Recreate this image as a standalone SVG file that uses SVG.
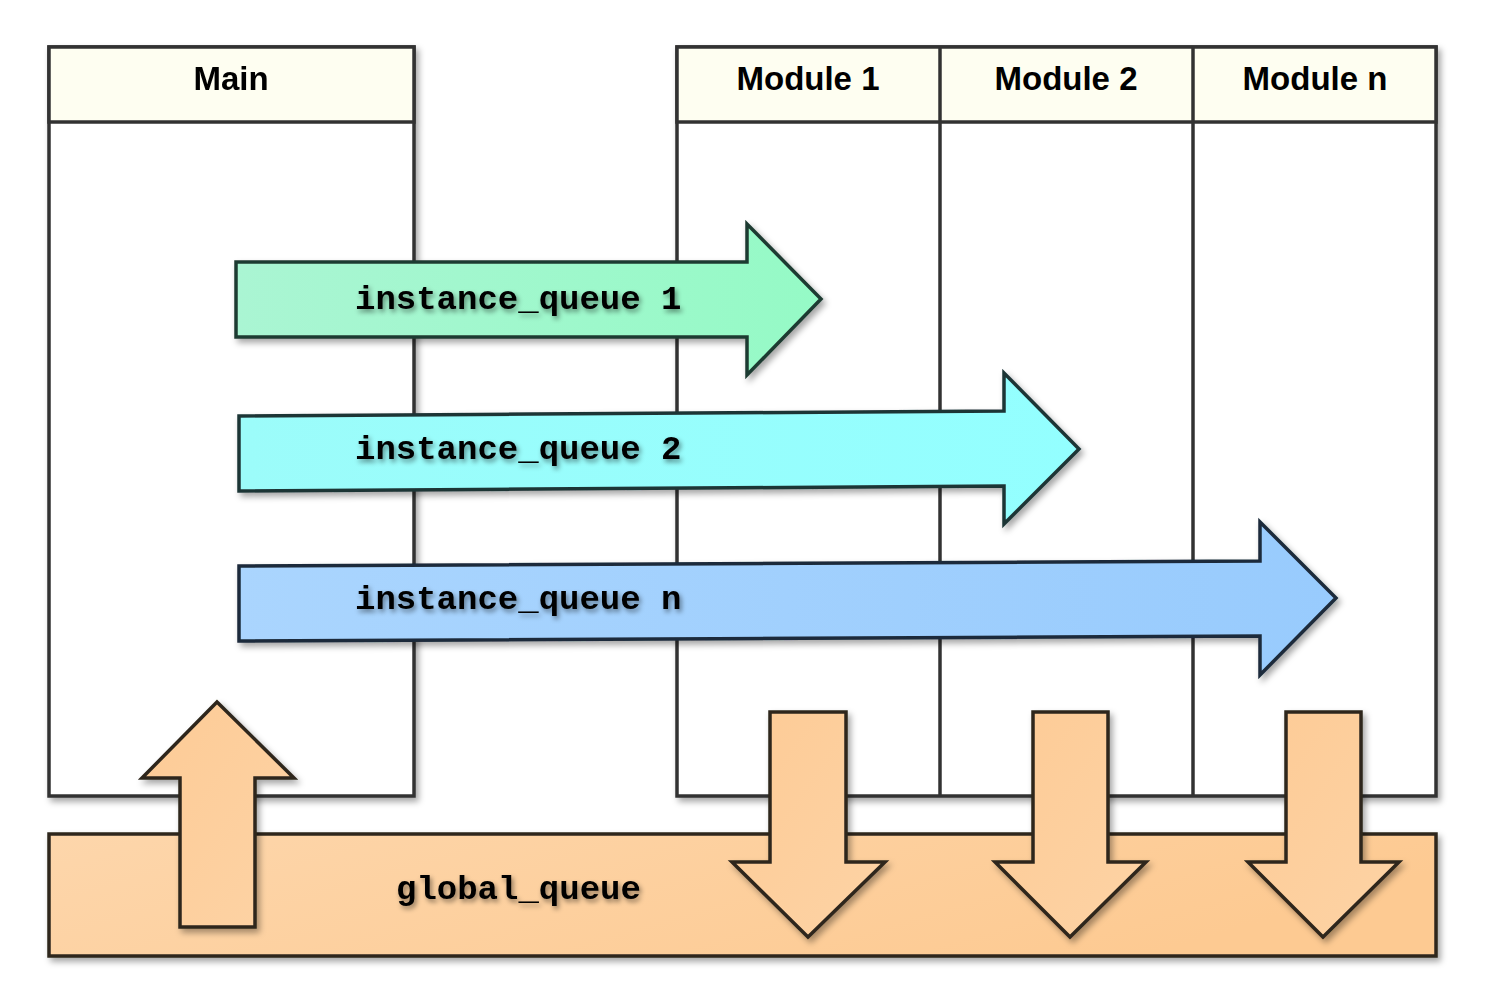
<svg xmlns="http://www.w3.org/2000/svg" width="1488" height="995" viewBox="0 0 1488 995">
<defs>
<filter id="sh" x="-10%" y="-10%" width="120%" height="120%">
<feDropShadow dx="3" dy="4" stdDeviation="3" flood-color="#000" flood-opacity="0.35"/>
</filter>
<filter id="tsh" x="-10%" y="-30%" width="120%" height="160%">
<feDropShadow dx="2" dy="3" stdDeviation="2.5" flood-color="#000" flood-opacity="0.45"/>
</filter>
<linearGradient id="gOrange" x1="0" y1="0" x2="1" y2="0.3">
<stop offset="0" stop-color="#fdd6ab"/><stop offset="1" stop-color="#fdca92"/>
</linearGradient>
<linearGradient id="gGreen" x1="0" y1="0" x2="1" y2="0">
<stop offset="0" stop-color="#aaf5d3"/><stop offset="1" stop-color="#95fac6"/>
</linearGradient>
<linearGradient id="gCyan" x1="0" y1="0" x2="1" y2="0">
<stop offset="0" stop-color="#9cfcfa"/><stop offset="1" stop-color="#93ffff"/>
</linearGradient>
<linearGradient id="gBlue" x1="0" y1="0" x2="1" y2="0">
<stop offset="0" stop-color="#aad5fe"/><stop offset="1" stop-color="#98cbfd"/>
</linearGradient>
<linearGradient id="gUp" x1="0" y1="0" x2="1" y2="1">
<stop offset="0" stop-color="#fdcb96"/><stop offset="1" stop-color="#fdd3a5"/>
</linearGradient>
</defs>
<style>
.lane{fill:#ffffff;stroke:#333333;stroke-width:3.5}
.hdr{fill:#fefef1;stroke:#333333;stroke-width:3.5}
.div{stroke:#333333;stroke-width:3.5;fill:none}
.lbl{font-family:"Liberation Sans",Arial,sans-serif;font-weight:bold;font-size:33px;fill:#000;text-anchor:middle}
.mono{font-family:"Liberation Mono","Courier New",monospace;font-weight:bold;font-size:34px;fill:#000}
.oarr{stroke:#2e261c;stroke-width:3.5;stroke-linejoin:miter}
</style>
<rect width="1488" height="995" fill="#ffffff"/>

<g id="main" filter="url(#sh)">
<rect class="lane" x="49" y="47" width="365" height="749"/>
<rect class="hdr" x="49" y="47" width="365" height="75"/>
<text class="lbl" x="231" y="90">Main</text>
</g>

<g id="modules" filter="url(#sh)">
<rect class="lane" x="677" y="47" width="759" height="749"/>
<rect class="hdr" x="677" y="47" width="759" height="75"/>
<line class="div" x1="940" y1="47" x2="940" y2="796"/>
<line class="div" x1="1193" y1="47" x2="1193" y2="796"/>
</g>
<g id="module1"><text class="lbl" x="808" y="90">Module 1</text></g>
<g id="module2"><text class="lbl" x="1066" y="90">Module 2</text></g>
<g id="modulen"><text class="lbl" x="1315" y="90">Module n</text></g>

<g id="global_queue">
<rect x="49" y="834" width="1387" height="122" fill="url(#gOrange)" stroke="#2e261c" stroke-width="3.5" filter="url(#sh)"/>
<text class="mono" x="396" y="899" filter="url(#tsh)">global_queue</text>
</g>

<g id="connectors">
<g id="iq1">
<path d="M236,262 L747,262 L747,224 L821,299 L747,375 L747,337 L236,337 Z" fill="url(#gGreen)" stroke="#1f3b30" stroke-width="3.5" filter="url(#sh)"/>
<text class="mono" x="355" y="309" filter="url(#tsh)">instance_queue 1</text>
</g>
<g id="iq2">
<path d="M239,416 L1004,411 L1004,373 L1079,449 L1004,524 L1004,486 L239,491 Z" fill="url(#gCyan)" stroke="#1e3436" stroke-width="3.5" filter="url(#sh)"/>
<text class="mono" x="355" y="459" filter="url(#tsh)">instance_queue 2</text>
</g>
<g id="iqn">
<path d="M239,566 L1260,561 L1260,522 L1336,598 L1260,675 L1260,636 L239,641 Z" fill="url(#gBlue)" stroke="#1b2a3a" stroke-width="3.5" filter="url(#sh)"/>
<text class="mono" x="355" y="609" filter="url(#tsh)">instance_queue n</text>
</g>
<path id="up" class="oarr" d="M180,927 L180,778 L142,778 L217,702 L294,778 L255,778 L255,927 Z" fill="url(#gUp)" filter="url(#sh)"/>
<path id="down1" class="oarr" d="M770,712 L846,712 L846,862 L885,862 L808,937 L732,862 L770,862 Z" fill="url(#gUp)" filter="url(#sh)"/>
<path id="down2" class="oarr" d="M1033,712 L1108,712 L1108,862 L1146,862 L1070,937 L995,862 L1033,862 Z" fill="url(#gUp)" filter="url(#sh)"/>
<path id="downn" class="oarr" d="M1286,712 L1361,712 L1361,862 L1399,862 L1323,937 L1248,862 L1286,862 Z" fill="url(#gUp)" filter="url(#sh)"/>
</g>
</svg>
